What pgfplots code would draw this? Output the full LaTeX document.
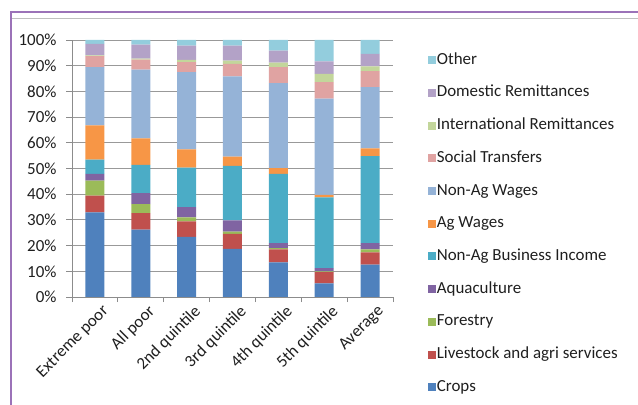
\documentclass[border=0pt]{standalone}
\usepackage{pgfplots}
\pgfplotsset{compat=1.18}
\usepackage{fontspec}
\setmainfont{Carlito}
\definecolor{cCrops}{HTML}{4F81BD}
\definecolor{cLive}{HTML}{C0504D}
\definecolor{cFor}{HTML}{9BBB59}
\definecolor{cAqua}{HTML}{8064A2}
\definecolor{cNAB}{HTML}{4BACC6}
\definecolor{cAgW}{HTML}{F79646}
\definecolor{cNAW}{HTML}{95B3D7}
\definecolor{cSoc}{HTML}{E0A3A2}
\definecolor{cInt}{HTML}{C3D69B}
\definecolor{cDom}{HTML}{B3A2C7}
\definecolor{cOth}{HTML}{93CDDD}
\definecolor{framepurple}{HTML}{9B72B8}
\definecolor{txt}{HTML}{1F1F1F}
\begin{document}
\begin{tikzpicture}
\path[use as bounding box] (0,0) rectangle (638bp,405bp);
\draw[color=framepurple, line width=2bp] (11bp,0) -- (11bp,393bp) -- (638bp,393bp);
\draw[black!25, line width=1bp] (12bp,386bp) -- (638bp,386bp);
\begin{axis}[
  at={(72bp,108bp)}, anchor=south west, scale only axis,
  width=321bp, height=257bp,
  ybar stacked, bar width=19bp,
  xmin=-0.5, xmax=6.5, ymin=0, ymax=100,
  axis x line*=bottom, axis y line*=left,
  axis line style={-, draw=black!45, line width=0.8bp},
  xtick={0,...,6},
  xticklabels={Extreme poor, All poor, 2nd quintile, 3rd quintile, 4th quintile, 5th quintile, Average},
  x tick label style={rotate=45, anchor=north east, inner sep=1bp, xshift=5bp, yshift=-4bp, font=\fontsize{17}{19}\selectfont, text=txt},
  major x tick style={draw=none},
  minor xtick={-0.5,0.5,...,6.5},
  minor x tick style={draw=black!45, line width=0.8bp},
  minor tick length=5bp,
  major tick length=6bp,
  tick align=outside,
  ytick={0,10,...,100},
  yticklabels={0\%,10\%,20\%,30\%,40\%,50\%,60\%,70\%,80\%,90\%,100\%},
  y tick label style={font=\fontsize{17}{19}\selectfont, text=txt, xshift=-6bp},
  major y tick style={draw=black!45, line width=0.8bp},
  ymajorgrids,
  grid style={draw=black!40, line width=0.8bp},
  reverse legend,
  legend cell align=left,
  legend style={at={(1.108,0.953)}, anchor=north west, draw=none, fill=none,
    font=\fontsize{17}{19}\selectfont, text=txt,
    row sep=16.7bp, inner sep=0pt,
    nodes={inner sep=1bp, text height=11bp, text depth=3bp}},
  legend image code/.code={\fill[#1] (0bp,-4bp) rectangle (8bp,4bp);},
]
\addplot[fill=cCrops, draw=none] coordinates {(0,32.9) (1,26.2) (2,23.4) (3,18.7) (4,13.5) (5,5.3) (6,12.6)};
\addplot[fill=cLive, draw=none] coordinates {(0,6.5) (1,6.4) (2,6.0) (3,5.9) (4,5.0) (5,4.4) (6,4.8)};
\addplot[fill=cFor, draw=none] coordinates {(0,5.9) (1,3.5) (2,1.6) (3,0.8) (4,0.5) (5,0.3) (6,1.1)};
\addplot[fill=cAqua, draw=none] coordinates {(0,2.6) (1,4.3) (2,4.0) (3,4.4) (4,2.0) (5,1.2) (6,2.5)};
\addplot[fill=cNAB, draw=none] coordinates {(0,5.6) (1,11.0) (2,15.3) (3,21.2) (4,26.9) (5,27.6) (6,33.8)};
\addplot[fill=cAgW, draw=none] coordinates {(0,13.3) (1,10.3) (2,7.1) (3,3.6) (4,2.2) (5,0.9) (6,3.0)};
\addplot[fill=cNAW, draw=none] coordinates {(0,22.6) (1,26.8) (2,30.1) (3,31.2) (4,33.1) (5,37.5) (6,23.9)};
\addplot[fill=cSoc, draw=none] coordinates {(0,4.3) (1,3.9) (2,3.9) (3,4.9) (4,6.2) (5,6.4) (6,6.2)};
\addplot[fill=cInt, draw=none] coordinates {(0,0.3) (1,0.4) (2,0.9) (3,1.3) (4,1.8) (5,3.2) (6,1.8)};
\addplot[fill=cDom, draw=none] coordinates {(0,4.5) (1,5.4) (2,5.5) (3,5.8) (4,4.7) (5,4.9) (6,4.9)};
\addplot[fill=cOth, draw=none] coordinates {(0,1.5) (1,1.8) (2,2.2) (3,2.2) (4,4.1) (5,8.3) (6,5.4)};
\legend{Crops, Livestock and agri services, Forestry, Aquaculture, Non-Ag Business Income, Ag Wages, Non-Ag Wages, Social Transfers, International Remittances, Domestic Remittances, Other}
\end{axis}
\end{tikzpicture}
\end{document}
